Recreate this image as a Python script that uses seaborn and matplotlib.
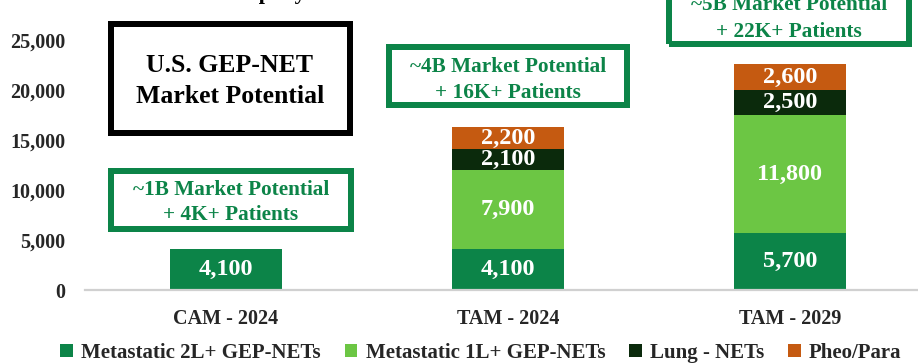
import matplotlib
matplotlib.use("Agg")
import matplotlib.pyplot as plt
from matplotlib.patches import Rectangle, Patch
from matplotlib.ticker import FuncFormatter
import numpy as np
import seaborn as sns

# ---- data -------------------------------------------------------------
categories = ["CAM - 2024", "TAM - 2024", "TAM - 2029"]
metastatic_2l = [4100, 4100, 5700]
metastatic_1l = [0, 7900, 11800]
lung_nets = [0, 2100, 2500]
pheo_para = [0, 2200, 2600]
series_names = ["Metastatic 2L+ GEP-NETs", "Metastatic 1L+ GEP-NETs",
                "Lung - NETs", "Pheo/Para"]
y_ticks = [0, 5000, 10000, 15000, 20000, 25000]

headline_lines = ["U.S. GEP-NET", "Market Potential"]
callout_lines = [
    ["~1B Market Potential", "+ 4K+ Patients"],
    ["~4B Market Potential", "+ 16K+ Patients"],
    ["~5B Market Potential", "+ 22K+ Patients"],
]
top_caption = "Addressable Patients \u2013 Company"

# ---- style ------------------------------------------------------------
series_colors = ["#0c8448", "#6cc644", "#0b2a0c", "#c55a11"]
box_green = "#0c8448"

sns.set_style("white")
plt.rcParams["font.family"] = ["Liberation Serif", "DejaVu Serif"]
plt.rcParams["font.weight"] = "bold"

W, H = 918, 364
fig = plt.figure(figsize=(W / 100, H / 100), dpi=100)


def fx(px):
    return px / W


def fy(py):
    return 1 - py / H


ax = fig.add_axes([fx(85), fy(290), fx(918 - 85), 290 / H])

# stacked bars: draw running totals from the top segment downwards
layers = np.array([metastatic_2l, metastatic_1l, lung_nets, pheo_para])
running = np.cumsum(layers, axis=0)
for i in reversed(range(len(layers))):
    sns.barplot(x=categories, y=running[i], color=series_colors[i],
                saturation=1, width=0.4, linewidth=0, edgecolor="none", ax=ax)

# segment value labels
for i in range(len(layers)):
    for j in range(len(categories)):
        v = layers[i][j]
        if v > 0:
            ax.text(j, running[i][j] - v / 2, f"{v:,}", ha="center",
                    va="center", color="white", fontsize=17.5,
                    fontweight="bold")

ax.set_xlim(-0.5, 2.454)
ax.set_ylim(0, 29000)
ax.set_yticks(y_ticks)
ax.yaxis.set_major_formatter(FuncFormatter(lambda v, _: f"{int(v):,}"))
ax.tick_params(axis="y", length=0, pad=14, labelsize=14.5)
ax.tick_params(axis="x", length=0, pad=14, labelsize=14.5)
for lab in ax.get_xticklabels() + ax.get_yticklabels():
    lab.set_fontweight("bold")
ax.set_xlabel("")
ax.set_ylabel("")
for side in ["top", "right", "left"]:
    ax.spines[side].set_visible(False)
ax.spines["bottom"].set_color("#d0d0d0")
ax.spines["bottom"].set_linewidth(1.6)
ax.patch.set_alpha(0)


# ---- callout boxes ----------------------------------------------------
def frame(x0, y0, x1, y1, t, color):
    fig.add_artist(Rectangle((fx(x0 + t / 2), fy(y1 - t / 2)),
                             (x1 - x0 - t) / W, (y1 - y0 - t) / H,
                             transform=fig.transFigure, fill=False,
                             edgecolor=color, linewidth=t * 0.72,
                             joinstyle="miter"))


frame(108, 21, 353, 136, 6, "black")
for line, base in zip(headline_lines, [72, 103]):
    fig.text(fx(230), fy(base), line, ha="center", va="baseline",
             fontsize=18.5, fontweight="bold", color="black")

box_specs = [
    ((108, 168, 354, 232), 231, [195, 220]),
    ((386, 44, 630, 108), 508, [72, 98]),
    ((666, -30, 912, 47), 789, [10, 37]),
]
for (bx, cx, bases), lines in zip(box_specs, callout_lines):
    frame(*bx, 6, box_green)
    for line, base in zip(lines, bases):
        fig.text(fx(cx), fy(base), line, ha="center", va="baseline",
                 fontsize=15.3, fontweight="bold", color=box_green)

# caption running off the top edge (only its descenders stay in view)
fig.text(fx(306), fy(-1), top_caption, ha="right", va="baseline",
         fontsize=16, fontweight="bold", color="black")

# ---- legend -----------------------------------------------------------
handles = [Patch(facecolor=c, edgecolor="none") for c in series_colors]
fig.legend(handles, series_names, loc="center",
           bbox_to_anchor=(fx(481), fy(353)), ncol=4, frameon=False,
           prop={"weight": "bold", "size": 15}, handlelength=0.6,
           handleheight=0.6, handletextpad=0.4, columnspacing=1.15,
           borderaxespad=0, borderpad=0)

fig.savefig("out.png", dpi=100)
